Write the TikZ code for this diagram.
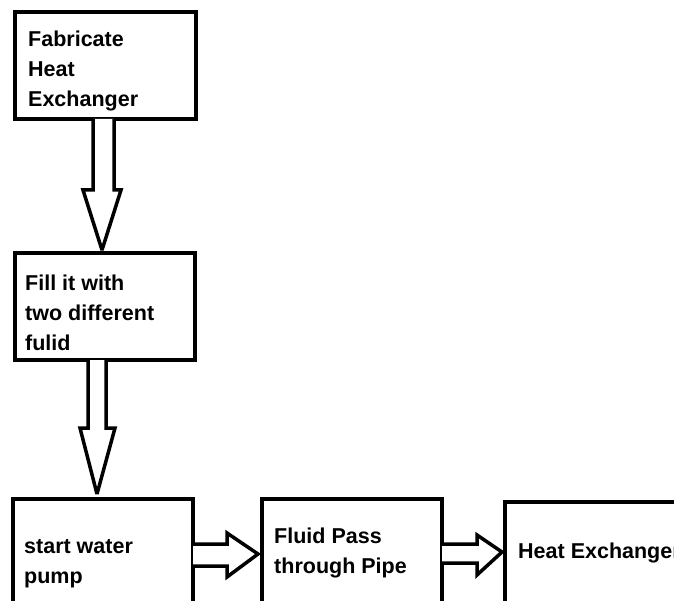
\documentclass[tikz,border=0pt]{standalone}
\usepackage{fontspec}
\newfontfamily\diafont{Liberation Sans}
\usetikzlibrary{calc}
\tikzset{
  boxnode/.style={draw=black, line width=4.5pt, fill=white, rectangle, inner sep=0pt, outer sep=0pt, anchor=north west},
  txt/.style={font=\diafont\bfseries\fontsize{21.5pt}{30pt}\selectfont, align=left, inner sep=0pt, anchor=base west, text=black},
  blockarrow/.style={draw=black, line width=3.5pt, fill=white, line join=miter, miter limit=3}
}
\begin{document}
\begin{tikzpicture}[x=1pt,y=-1pt]
\useasboundingbox (0,0) rectangle (674,601);
\clip (0,0) rectangle (674,601);
\fill[white] (0,0) rectangle (674,601);
% boxes
\node[boxnode, minimum width=181pt, minimum height=107pt] (b1) at (15,12) {};
\node[boxnode, minimum width=180pt, minimum height=107pt] (b2) at (15,253) {};
\node[boxnode, minimum width=180pt, minimum height=160pt] (b3) at (13,499) {};
\node[boxnode, minimum width=180pt, minimum height=160pt] (b4) at (262,499) {};
\node[boxnode, minimum width=250pt, minimum height=160pt] (b5) at (505,502) {};
% texts (anchor at baseline of last line)
\node[txt] (t1) at (28,107) {Fabricate\\Heat\\Exchanger};
\node[txt] (t2) at (25,350) {Fill it with\\two different\\fulid};
\node[txt] (t3) at (24,583) {start water\\pump};
\node[txt] (t4) at (274,573) {Fluid Pass\\through Pipe};
\node[txt] (t5) at (518,558) {Heat Exchanger};
% arrows
\coordinate (a1s) at ($(b1.south)+(-2,0)$);
\coordinate (a1t) at ($(b2.north)+(-3,-3)$);
\draw[blockarrow] ($(a1s)+(-10.5,0)$) -- ($(a1s)+(-10.5,71)$) -- ($(a1s)+(-20.5,71)$) -- (a1t)
  -- ($(a1s)+(17.5,71)$) -- ($(a1s)+(10.5,71)$) -- ($(a1s)+(10.5,0)$);
\coordinate (a2s) at ($(b2.south)+(-8,0)$);
\coordinate (a2t) at ($(b3.north)+(-6,-5)$);
\draw[blockarrow] ($(a2s)+(-9,0)$) -- ($(a2s)+(-9,68)$) -- ($(a2s)+(-17,68)$) -- (a2t)
  -- ($(a2s)+(18,68)$) -- ($(a2s)+(9,68)$) -- ($(a2s)+(9,0)$);
\coordinate (a3s) at (b3.east |- 0,555);
\coordinate (a3t) at ($(b4.west |- 0,554)+(-4,0)$);
\draw[blockarrow] ($(a3s)+(0,-11)$) -- ($(a3s)+(34,-11)$) -- ($(a3s)+(34,-22)$) -- (a3t)
  -- ($(a3s)+(34,22)$) -- ($(a3s)+(34,11)$) -- ($(a3s)+(0,11)$);
\coordinate (a4s) at (b4.east |- 0,553.5);
\coordinate (a4t) at ($(b5.west |- 0,552)+(-3,0)$);
\draw[blockarrow] ($(a4s)+(0,-9.5)$) -- ($(a4s)+(35,-9.5)$) -- ($(a4s)+(35,-18.5)$) -- (a4t)
  -- ($(a4s)+(35,21.5)$) -- ($(a4s)+(35,9.5)$) -- ($(a4s)+(0,9.5)$);
\end{tikzpicture}
\end{document}
